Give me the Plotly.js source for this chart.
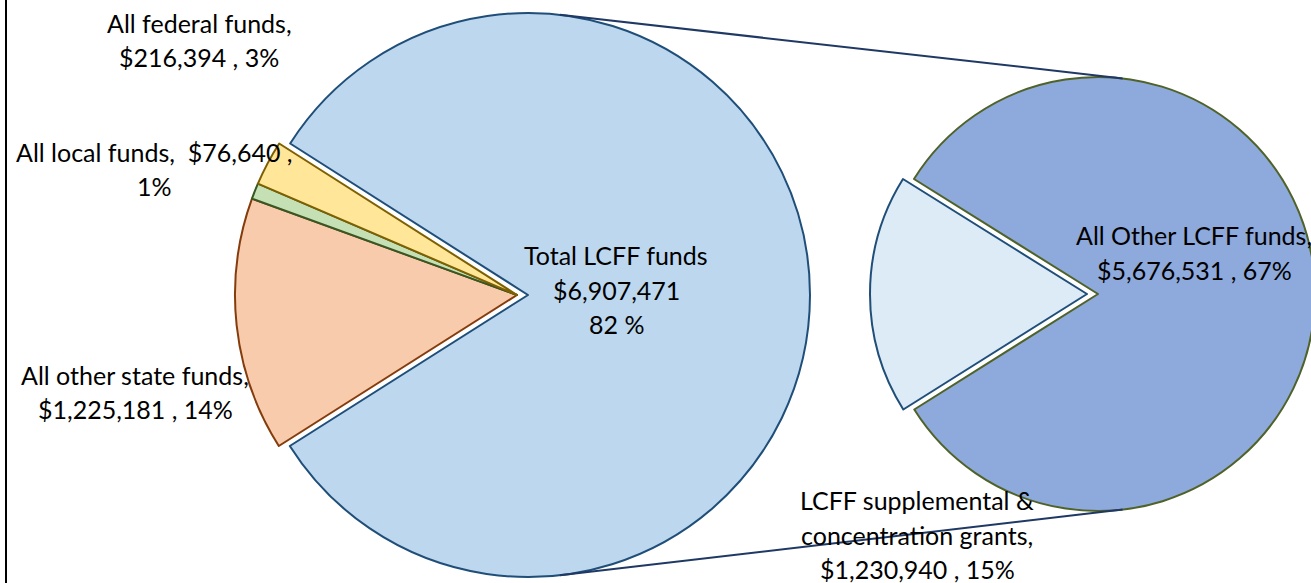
<!DOCTYPE html>
<html>
<head>
<meta charset="utf-8">
<script src="https://cdn.plot.ly/plotly-3.0.1.min.js"></script>
<style>
  html, body { margin: 0; padding: 0; overflow: hidden; background: #ffffff; }
  #chart { width: 1330px; height: 590px; }
</style>
</head>
<body>
<div id="chart"></div>
<script>
// ---- data ----
const leftLabels = ['Total LCFF funds', 'All other state funds', 'All local funds', 'All federal funds'];
const leftValues = [6907471, 1225181, 76640, 216394];
const leftPct = ['82 %', '14%', '1%', '3%'];

const rightLabels = ['All Other LCFF funds', 'LCFF supplemental & concentration grants'];
const rightValues = [5676531, 1230940];
const rightPct = ['67%', '15%'];

// ---- styles ----
const leftFill = ['#BDD7EE', '#F8CBAD', '#C5E0B4', '#FFE699'];
const leftLine = ['#1F4E79', '#843C0C', '#385723', '#7F6000'];
const rightFill = ['#8EA9DB', '#DDEBF7'];
const rightLine = ['#4F6228', '#1F4E79'];

const W = 1330, H = 590;
const FONT = 'Lato, "Open Sans", sans-serif';
const FS = 25;

// geometry (pixels)
const L = {cx: 517, cy: 295, r: 282, gap: 11};
const R = {cx: 1098, cy: 294, r: 217, gap: 11};
const pullL = L.gap / L.r;
const pullR = R.gap / R.r;

function domainFor(g, pull) {
  const half = g.r * (1 + pull);
  return {
    x: [Math.max(0, (g.cx - half) / W), Math.min(1, (g.cx + half) / W)],
    y: [Math.max(0, 1 - (g.cy + half) / H), Math.min(1, 1 - (g.cy - half) / H)]
  };
}

const fmt = v => '$' + v.toLocaleString('en-US');

const traces = [
  {
    type: 'pie', labels: leftLabels, values: leftValues, sort: false,
    direction: 'clockwise', rotation: 302.5,
    pull: [pullL, 0, 0, 0],
    textinfo: 'none', hoverinfo: 'label+value+percent',
    marker: {colors: leftFill, line: {color: leftLine, width: 2}},
    domain: domainFor(L, pullL), showlegend: false
  },
  {
    type: 'pie', labels: rightLabels, values: rightValues, sort: false,
    direction: 'clockwise', rotation: 302,
    pull: [0, pullR],
    textinfo: 'none', hoverinfo: 'label+value+percent',
    marker: {colors: rightFill, line: {color: rightLine, width: 2}},
    domain: domainFor(R, pullR), showlegend: false
  }
];

// label lines (text from data arrays), positions in pixels
const labelSpecs = [
  {lines: [leftLabels[3] + ',', fmt(leftValues[3]) + ' , ' + leftPct[3]], x: 199, y: [23, 57]},
  {lines: [leftLabels[2] + ',\u00a0 ' + fmt(leftValues[2]) + ' ,', leftPct[2]], x: 154, y: [152, 186]},
  {lines: [leftLabels[1] + ',', fmt(leftValues[1]) + ' , ' + leftPct[1]], x: 135, y: [375, 409]},
  {lines: [leftLabels[0], fmt(leftValues[0]), leftPct[0]], x: 616, y: [255, 290, 324]},
  {lines: [rightLabels[0] + ',', fmt(rightValues[0]) + ' , ' + rightPct[0]], x: 1194, y: [235, 270]},
  {lines: ['LCFF supplemental &amp;', 'concentration grants,', fmt(rightValues[1]) + ' , ' + rightPct[1]], x: 917, y: [500, 535, 569]}
];

const annotations = [];
labelSpecs.forEach(s => {
  s.lines.forEach((t, i) => {
    annotations.push({
      xref: 'paper', yref: 'paper', x: s.x / W, y: 1 - s.y[i] / H,
      xanchor: 'center', yanchor: 'middle', showarrow: false,
      text: t, font: {family: FONT, size: FS, color: '#000000'}
    });
  });
});

// connector lines between pies (tangent-ish points on both circles)
const degA = 6.5 * Math.PI / 180;
const lcffC = {x: L.cx + L.gap, y: L.cy};
function pt(c, r, a) { return {x: c.x + r * Math.sin(a), y: c.y - r * Math.cos(a)}; }
const p1 = pt(lcffC, L.r, degA), p2 = pt({x: R.cx, y: R.cy}, R.r, degA);
const p3 = pt(lcffC, L.r, Math.PI - degA), p4 = pt({x: R.cx, y: R.cy}, R.r, Math.PI - degA);
const toPaper = p => ({x: p.x / W, y: 1 - p.y / H});
function seg(a, b) {
  const A = toPaper(a), B = toPaper(b);
  return {type: 'line', xref: 'paper', yref: 'paper', x0: A.x, y0: A.y, x1: B.x, y1: B.y,
          line: {color: '#1F3864', width: 2}, layer: 'above'};
}
const shapes = [
  seg(p1, p2), seg(p3, p4),
  {type: 'line', xref: 'paper', yref: 'paper', x0: 6 / W, x1: 6 / W, y0: 0, y1: 1,
   line: {color: '#000000', width: 2}}
];

const layout = {
  width: W, height: H,
  margin: {l: 0, r: 0, t: 0, b: 0},
  paper_bgcolor: '#ffffff', plot_bgcolor: '#ffffff',
  annotations: annotations, shapes: shapes, showlegend: false
};

Plotly.newPlot('chart', traces, layout, {displayModeBar: false, staticPlot: true});
</script>
</body>
</html>
